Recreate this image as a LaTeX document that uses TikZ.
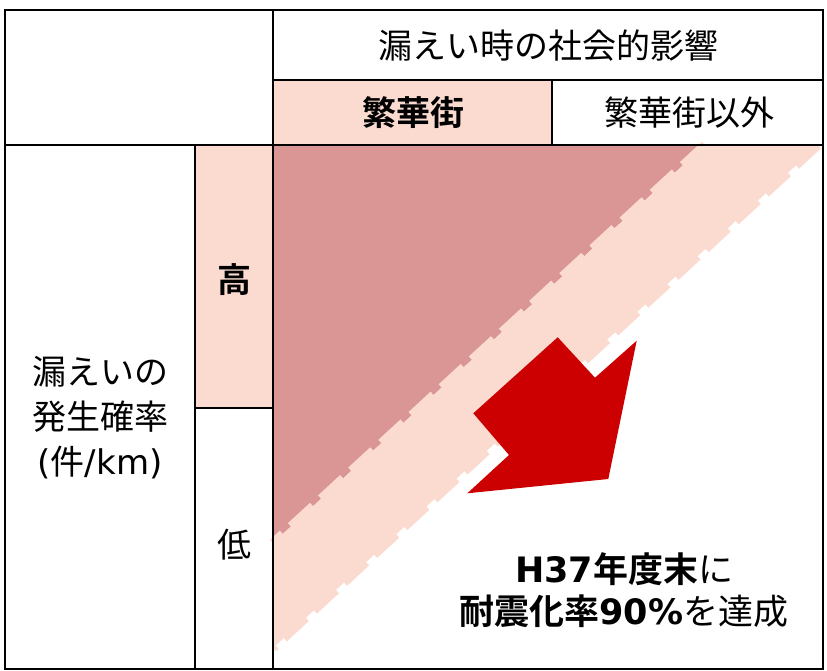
\documentclass[tikz,border=0pt]{standalone}
\usepackage{fontspec}
\setmainfont{Noto Sans CJK JP}[BoldFont={Noto Sans CJK JP Bold}]
\newfontfamily\lat{DejaVu Sans}
\definecolor{darkpink}{HTML}{D99694}
\definecolor{lightpink}{HTML}{FBDAD0}
\definecolor{arrowred}{HTML}{CC0000}
\tikzset{
  grid/.style={line width=2.5pt, black},
  band/.style={lightpink, line width=9pt, dash pattern=on 30pt off 11pt},
  lbl/.style={inner sep=0pt, font=\fontsize{34}{44}\selectfont},
}
\begin{document}
\begin{tikzpicture}[x=1pt,y=-1pt]
\useasboundingbox (0,0) rectangle (827,671);
% cell fills
\fill[lightpink] (273,80) rectangle (552,145);
\fill[lightpink] (195,145) rectangle (273,408);
% triangle and band
\fill[darkpink] (273,145) -- (705,145) -- (273,543) -- cycle;
\fill[lightpink] (273,543) -- (705,145) -- (818,145) -- (273,648) -- cycle;
\coordinate (u1) at (705,145);
\coordinate (u2) at (273,543);
\coordinate (l1) at (818,145);
\coordinate (l2) at (273,648);
\draw[band] (u1) -- (u2);
\begin{scope}
\clip (273,146) rectangle (823,669);
\draw[band] (l1) -- (l2);
\end{scope}
% arrow
\fill[arrowred] (557.7,337.3) -- (595,377.7) -- (636.7,340.7) -- (608.3,479)
  -- (467.3,493.3) -- (509,455) -- (473.3,413.3) -- cycle;
% grid
\draw[grid] (5,10) rectangle (823,669);
\draw[grid] (273,10) -- (273,669);
\draw[grid] (273,80) -- (823,80);
\draw[grid] (5,145) -- (823,145);
\draw[grid] (552,80) -- (552,145);
\draw[grid] (195,145) -- (195,669);
\draw[grid] (195,408) -- (273,408);
% texts
\node[lbl] (title) at (548,46) {漏えい時の社会的影響};
\node[lbl] (hanka) at (413,113) {\bfseries 繁華街};
\node[lbl] (other) at (689,113) {繁華街以外};
\node[lbl] (high) at (234,280) {\bfseries 高};
\node[lbl] (low) at (234,545) {低};
\node[lbl, align=center, font=\fontsize{34}{45}\selectfont] (ylabel) at (100,418) {漏えいの\\発生確率\\{\lat(}件{\lat/km)}};
\node[lbl, align=center, font=\fontsize{35}{42}\selectfont] (goal) at (624,590) {\textbf{{\lat H37}年度末}に\\\textbf{耐震化率{\lat 90\%}}を達成};
\end{tikzpicture}
\end{document}
